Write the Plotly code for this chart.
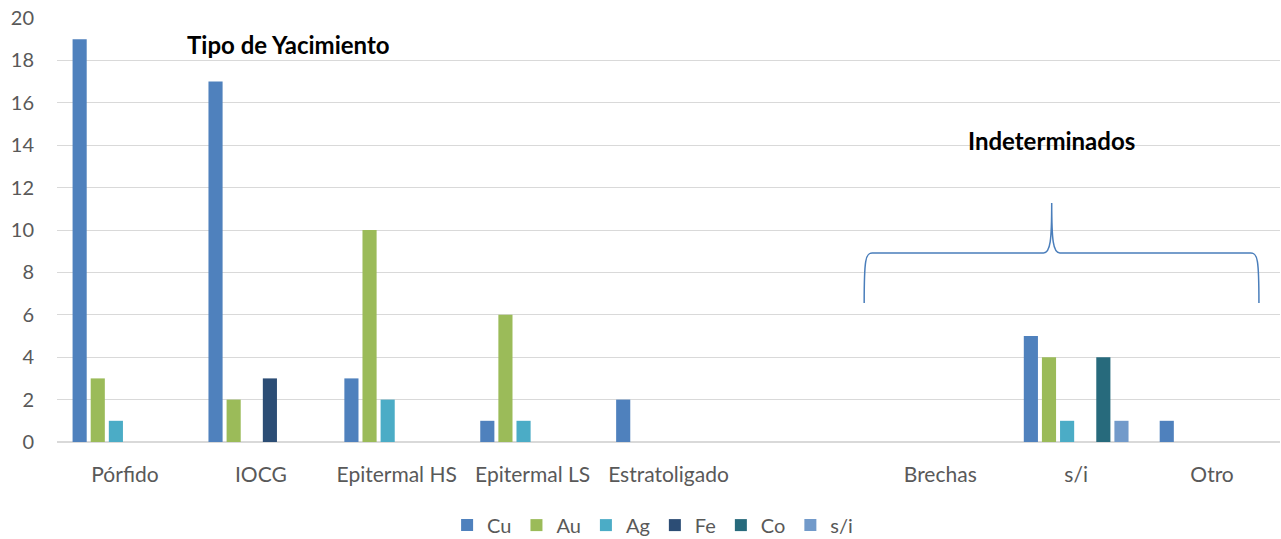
import plotly.graph_objects as go

# Deposit categories (the blank slot separates the "Indeterminados" group)
categories = ["Pórfido", "IOCG", "Epitermal HS", "Epitermal LS", "Estratoligado",
              " ", "Brechas", "s/i", "Otro"]

cu = [19, 17, 3, 1, 2, None, 0, 5, 1]
au = [3, 2, 10, 6, 0, None, 0, 4, 0]
ag = [1, 0, 2, 1, 0, None, 0, 1, 0]
fe = [0, 3, 0, 0, 0, None, 0, 0, 0]
co = [0, 0, 0, 0, 0, None, 0, 4, 0]
si = [0, 0, 0, 0, 0, None, 0, 1, 0]

series = [
    ("Cu", cu, "#4F81BD"),
    ("Au", au, "#9BBB59"),
    ("Ag", ag, "#4BACC6"),
    ("Fe", fe, "#2C4D75"),
    ("Co", co, "#276A7C"),
    ("s/i", si, "#729ACA"),
]

FONT = "Lato"
TXT = "#595959"

fig = go.Figure()
for name, vals, color in series:
    fig.add_trace(go.Bar(
        x=categories, y=vals, name=name,
        marker=dict(color=color, line=dict(width=0)),
    ))

# Curly brace over the undetermined group, in data units (category index, value)
n_cat = len(categories)
y_max = 20


def px(xc):
    return (xc + 0.5) / n_cat


def py(yv):
    return yv / y_max


xl, xm, xr = 5.44, 6.82, 8.345
yb, yh, yt = 6.56, 8.92, 11.27
dx = 0.06
brace = (
    f"M {px(xl)},{py(yb)} "
    f"C {px(xl)},{py(yh - 0.3)} {px(xl + 0.01)},{py(yh)} {px(xl + dx)},{py(yh)} "
    f"L {px(xm - dx)},{py(yh)} "
    f"C {px(xm - 0.01)},{py(yh)} {px(xm)},{py(yh + 0.6)} {px(xm)},{py(yt)} "
    f"C {px(xm)},{py(yh + 0.6)} {px(xm + 0.01)},{py(yh)} {px(xm + dx)},{py(yh)} "
    f"L {px(xr - dx)},{py(yh)} "
    f"C {px(xr - 0.01)},{py(yh)} {px(xr)},{py(yh - 0.3)} {px(xr)},{py(yb)}"
)
fig.add_shape(type="path", path=brace, xref="paper", yref="paper",
              line=dict(color="#4A7EBB", width=1.5))

fig.add_annotation(text="<b>Tipo de Yacimiento</b>", x=1.2, y=18.75, xref="x", yref="y",
                   showarrow=False, font=dict(family=FONT, size=24, color="#000000"))
fig.add_annotation(text="<b>Indeterminados</b>", x=6.82, y=14.2, xref="x", yref="y",
                   showarrow=False, font=dict(family=FONT, size=24, color="#000000"))

fig.update_layout(
    width=1281, height=539,
    margin=dict(l=57, r=1, t=18, b=97, autoexpand=False),
    paper_bgcolor="white", plot_bgcolor="white",
    barmode="group", bargap=0.2, bargroupgap=0.22,
    font=dict(family=FONT, size=20, color=TXT),
    legend=dict(orientation="h", x=0.487, xanchor="center", y=-0.196, yanchor="middle",
                font=dict(family=FONT, size=20, color=TXT), itemwidth=30,
                traceorder="normal"),
    showlegend=True,
)
fig.update_xaxes(categoryorder="array", categoryarray=categories, showgrid=False,
                 showline=True, linecolor="#d9d9d9", linewidth=1, ticks="",
                 ticklabelstandoff=14, tickfont=dict(family=FONT, size=21, color=TXT))
fig.update_yaxes(range=[0, 20], dtick=2, showgrid=True, gridcolor="#d9d9d9", gridwidth=1,
                 zeroline=True, zerolinecolor="#d9d9d9", showline=False, ticks="",
                 ticklabelstandoff=22, tickfont=dict(family=FONT, size=20, color=TXT))

fig.write_html("out.html")
